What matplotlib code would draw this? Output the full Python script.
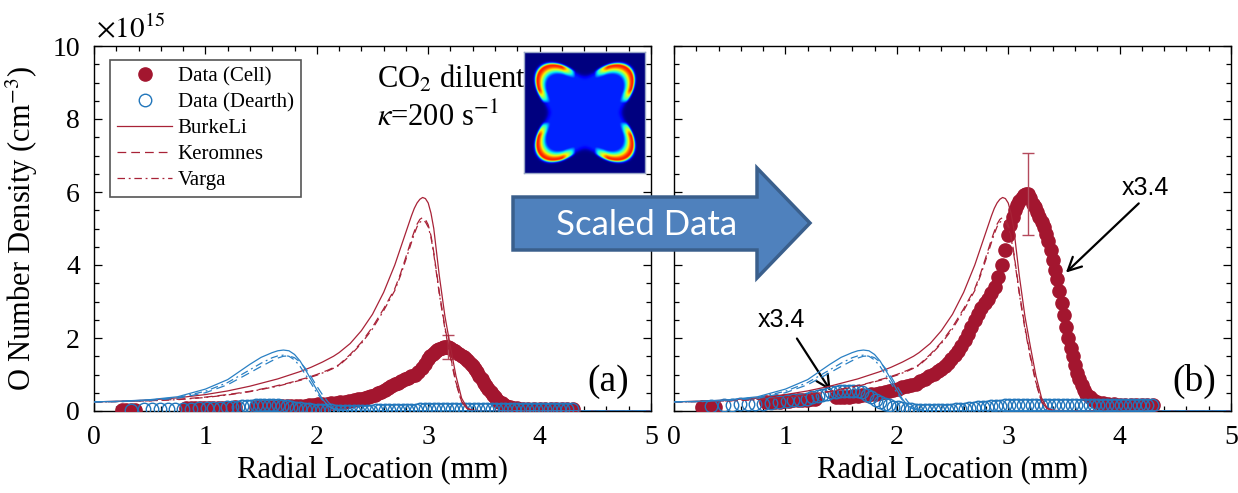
import numpy as np
import matplotlib
matplotlib.use("Agg")
import matplotlib.pyplot as plt
from matplotlib.patches import Polygon
from matplotlib.ticker import MultipleLocator

plt.rcParams['font.family'] = ['Liberation Serif', 'DejaVu Serif']
plt.rcParams['mathtext.fontset'] = 'stix'

# ---------------------------
# data (left panel = measured, right panel = measured x3.4)
# ---------------------------
SCALE = 3.4

cell_x = [0.25, 0.29, 0.33, 0.37,
          0.83, 0.87, 0.91, 0.95, 0.99, 1.03, 1.07, 1.11, 1.15, 1.19, 1.23, 1.27,
          1.45, 1.49, 1.53, 1.57, 1.61, 1.65, 1.69, 1.73, 1.77, 1.81, 1.85, 1.89,
          1.93, 1.97, 2.01, 2.05, 2.09, 2.13, 2.17, 2.21, 2.25, 2.29, 2.33, 2.37,
          2.40, 2.43, 2.46, 2.49, 2.52, 2.55, 2.58, 2.61, 2.64, 2.67, 2.70, 2.73,
          2.76, 2.79, 2.82, 2.85, 2.88, 2.91, 2.94, 2.97, 3.00, 3.02, 3.04, 3.06,
          3.08, 3.10, 3.12, 3.14, 3.16, 3.18, 3.20, 3.22, 3.24, 3.26, 3.28, 3.30,
          3.32, 3.34, 3.36, 3.38, 3.40, 3.42, 3.44, 3.46, 3.48, 3.50, 3.52, 3.54,
          3.56, 3.58, 3.60, 3.62, 3.64, 3.66, 3.68, 3.70, 3.73, 3.76, 3.80, 3.85,
          3.90, 3.95, 4.00, 4.05, 4.10, 4.15, 4.20, 4.25, 4.30]
cell_y = [0.03, 0.03, 0.035, 0.035,
          0.07, 0.07, 0.075, 0.075, 0.08, 0.08, 0.085, 0.085, 0.09, 0.09, 0.095, 0.10,
          0.11, 0.11, 0.115, 0.115, 0.12, 0.12, 0.125, 0.13, 0.135, 0.14, 0.145, 0.15,
          0.16, 0.17, 0.18, 0.19, 0.20, 0.21, 0.22, 0.24, 0.26, 0.28, 0.30, 0.32,
          0.34, 0.36, 0.39, 0.42, 0.45, 0.48, 0.52, 0.57, 0.62, 0.68, 0.73, 0.78,
          0.83, 0.87, 0.90, 0.95, 1.00, 1.08, 1.18, 1.30, 1.42, 1.50, 1.56, 1.62,
          1.66, 1.69, 1.72, 1.74, 1.75, 1.75, 1.72, 1.67, 1.64, 1.60, 1.56, 1.52,
          1.48, 1.43, 1.37, 1.30, 1.22, 1.14, 1.06, 0.97, 0.87, 0.77, 0.68, 0.59,
          0.51, 0.44, 0.37, 0.31, 0.26, 0.21, 0.17, 0.14, 0.11, 0.09, 0.075, 0.065,
          0.06, 0.055, 0.05, 0.05, 0.05, 0.05, 0.05, 0.05, 0.05]

dearth_x = [0.33, 0.45, 0.52, 0.59, 0.66, 0.73, 0.80, 0.87, 0.94, 1.01, 1.07,
            1.13, 1.19, 1.24, 1.29, 1.33, 1.37, 1.41, 1.45, 1.49, 1.53, 1.57,
            1.61, 1.65, 1.69, 1.73, 1.77, 1.81, 1.85, 1.89, 1.93, 1.97, 2.01,
            2.05, 2.09, 2.13, 2.17, 2.21, 2.25, 2.29, 2.33, 2.37, 2.41, 2.45,
            2.49, 2.53, 2.57, 2.61, 2.65, 2.69, 2.73, 2.77, 2.81, 2.85, 2.89,
            2.93, 2.97, 3.01, 3.05, 3.09, 3.13, 3.17, 3.21, 3.25, 3.29, 3.33,
            3.37, 3.41, 3.45, 3.49, 3.53, 3.57, 3.61, 3.65, 3.69, 3.73, 3.77,
            3.81, 3.85, 3.89, 3.93, 3.97, 4.01, 4.05, 4.09, 4.13, 4.17, 4.21,
            4.25, 4.29]
dearth_y = [0.04, 0.05, 0.05, 0.055, 0.055, 0.06, 0.06, 0.065, 0.07, 0.08, 0.085,
            0.09, 0.10, 0.11, 0.12, 0.13, 0.14, 0.15, 0.155, 0.16, 0.165, 0.165,
            0.165, 0.16, 0.15, 0.13, 0.11, 0.09, 0.07, 0.055, 0.045, 0.035, 0.03,
            0.025, 0.02, 0.015, 0.01, 0.008, 0.005, 0.005, 0.005, 0.005, 0.008, 0.01,
            0.012, 0.015, 0.018, 0.02, 0.025, 0.028, 0.03, 0.033, 0.035, 0.038, 0.04,
            0.042, 0.045, 0.045, 0.046, 0.046, 0.047, 0.047, 0.047, 0.048, 0.048, 0.048,
            0.048, 0.048, 0.049, 0.049, 0.049, 0.049, 0.049, 0.05, 0.05, 0.05, 0.05,
            0.05, 0.05, 0.05, 0.05, 0.05, 0.05, 0.05, 0.05, 0.05, 0.05, 0.05,
            0.05, 0.05]

# model predictions on a common grid
model_x = [0.0, 0.25, 0.5, 0.75, 1.0, 1.2, 1.4, 1.5, 1.6, 1.65, 1.7, 1.75, 1.8,
           1.85, 1.9, 1.95, 2.0, 2.05, 2.1, 2.15, 2.2, 2.3, 2.4, 2.5, 2.6, 2.7,
           2.75, 2.8, 2.85, 2.875, 2.9, 2.925, 2.95, 2.975, 3.0, 3.025, 3.05,
           3.1, 3.15, 3.2, 3.25, 3.3, 3.35, 3.4, 3.5, 4.0, 5.0]
cell_burkeli = [0.25, 0.27, 0.30, 0.36, 0.45, 0.55, 0.68, 0.76, 0.84, 0.88,
                0.93, 0.98, 1.03, 1.08, 1.14, 1.20, 1.27, 1.34, 1.42, 1.50,
                1.60, 1.85, 2.20, 2.65, 3.25, 4.00, 4.45, 4.90, 5.35, 5.55,
                5.70, 5.80, 5.85, 5.82, 5.70, 5.42, 5.00, 3.70, 2.60, 1.75,
                0.95, 0.35, 0.08, 0.02, 0.005, 0.0, 0.0]
cell_keromnes = [0.25, 0.26, 0.28, 0.32, 0.38, 0.45, 0.54, 0.60, 0.66, 0.70,
                 0.73, 0.77, 0.81, 0.86, 0.90, 0.95, 1.00, 1.06, 1.12, 1.19,
                 1.27, 1.55, 1.88, 2.30, 2.80, 3.35, 3.75, 4.22, 4.70, 4.92,
                 5.12, 5.25, 5.30, 5.25, 5.10, 4.80, 4.35, 3.25, 2.30, 1.50,
                 0.78, 0.26, 0.06, 0.015, 0.004, 0.0, 0.0]
cell_varga = [0.25, 0.26, 0.28, 0.31, 0.37, 0.44, 0.53, 0.59, 0.65, 0.68,
              0.72, 0.76, 0.80, 0.84, 0.88, 0.93, 0.98, 1.04, 1.10, 1.17,
              1.25, 1.52, 1.85, 2.25, 2.75, 3.30, 3.70, 4.15, 4.62, 4.85,
              5.05, 5.17, 5.22, 5.18, 5.04, 4.76, 4.30, 3.20, 2.25, 1.45,
              0.75, 0.25, 0.06, 0.015, 0.004, 0.0, 0.0]
dearth_burkeli = [0.25, 0.27, 0.31, 0.39, 0.60, 0.86, 1.28, 1.47, 1.60, 1.65,
                  1.67, 1.65, 1.55, 1.37, 1.12, 0.85, 0.58, 0.33, 0.14, 0.05,
                  0.015, 0.003, 0.0, 0.0, 0.0] + [0.0] * 22
dearth_keromnes = [0.25, 0.26, 0.29, 0.35, 0.50, 0.72, 1.05, 1.22, 1.38, 1.45,
                   1.50, 1.51, 1.46, 1.34, 1.16, 0.93, 0.68, 0.45, 0.25, 0.11,
                   0.04, 0.005, 0.0, 0.0, 0.0] + [0.0] * 22
dearth_varga = [0.25, 0.26, 0.30, 0.37, 0.54, 0.78, 1.13, 1.31, 1.46, 1.51,
                1.53, 1.50, 1.40, 1.22, 0.99, 0.75, 0.50, 0.30, 0.15, 0.06,
                0.02, 0.004, 0.0, 0.0, 0.0] + [0.0] * 22

err_x = 3.18
err_y = 1.75
err_size = 0.33

RED = '#a3162f'
RED_LINE = '#a82237'
ERR = '#b44a5c'
BLUE = '#2176bb'
BLUE_LINE = '#2a80c4'

W, H = 1238, 493
fig = plt.figure(figsize=(W / 100, H / 100), dpi=100)
ax_a = fig.add_axes([94 / W, 1 - 411 / H, 557 / W, 365 / H])
ax_b = fig.add_axes([674 / W, 1 - 411 / H, 557 / W, 365 / H])


def draw_panel(ax, k):
    ax.plot(cell_x, np.array(cell_y) * k, 'o', color=RED, mec=RED, ms=9.5,
            label='Data (Cell)', zorder=3)
    ax.plot(dearth_x, np.array(dearth_y) * k, 'o', mfc='none', mec=BLUE, ms=9,
            mew=1.0, label='Data (Dearth)', zorder=4)
    ax.errorbar([err_x], [err_y * k], yerr=[err_size * k], fmt='none',
                ecolor=ERR, elinewidth=1.0, capsize=4, capthick=1.0, zorder=5)
    ax.plot(model_x, cell_burkeli, '-', color=RED_LINE, lw=0.9, label='BurkeLi', zorder=6)
    ax.plot(model_x, cell_keromnes, '--', color=RED_LINE, lw=0.9, dashes=(7, 4),
            label='Keromnes', zorder=6)
    ax.plot(model_x, cell_varga, '-.', color=RED_LINE, lw=0.9, dashes=(6, 3, 1.5, 3),
            label='Varga', zorder=6)
    ax.plot(model_x, dearth_burkeli, '-', color=BLUE_LINE, lw=0.9, zorder=6)
    ax.plot(model_x, dearth_keromnes, '--', color=BLUE_LINE, lw=0.9, dashes=(7, 4), zorder=6)
    ax.plot(model_x, dearth_varga, '-.', color=BLUE_LINE, lw=0.9, dashes=(6, 3, 1.5, 3), zorder=6)

    ax.set_xlim(0, 5)
    ax.set_ylim(0, 10)
    ax.xaxis.set_major_locator(MultipleLocator(1))
    ax.xaxis.set_minor_locator(MultipleLocator(0.2))
    ax.yaxis.set_major_locator(MultipleLocator(2))
    ax.yaxis.set_minor_locator(MultipleLocator(0.5))
    ax.tick_params(which='both', direction='in', top=True, right=True, width=0.9)
    ax.tick_params(which='major', length=6, labelsize=20, pad=10)
    ax.tick_params(which='minor', length=3.5)
    for sp in ax.spines.values():
        sp.set_linewidth(1.0)
    ax.set_xlabel('Radial Location (mm)', fontsize=22, labelpad=4)


draw_panel(ax_a, 1.0)
draw_panel(ax_b, SCALE)
ax_b.set_yticklabels([])

ax_a.set_ylabel('O Number Density (cm$^{-3}$)', fontsize=22, labelpad=9)

leg = ax_a.legend(loc='upper left', bbox_to_anchor=(0.029, 0.962), borderaxespad=0,
                  fontsize=15, numpoints=1, handlelength=2.6, handletextpad=0.3,
                  labelspacing=0.3, borderpad=0.35, fancybox=False, framealpha=1,
                  edgecolor='#555555')
leg.get_frame().set_linewidth(1.2)

fig.text(377 / W, 1 - 88 / H, 'CO$_2$ diluent', fontsize=22, va='baseline')
fig.text(377 / W, 1 - 126 / H, r'$\kappa$=200 s$^{-1}$', fontsize=22, va='baseline')
fig.text(96 / W, 1 - 37 / H, r'$\times10^{15}$', fontsize=21, va='baseline')

ax_a.text(4.62, 0.8, '(a)', fontsize=27, ha='center', va='center')
ax_b.text(4.67, 0.8, '(b)', fontsize=27, ha='center', va='center')

# x3.4 annotations
arrow_kw = dict(arrowstyle='->', color='black', lw=1.6, mutation_scale=24)
ax_b.annotate('', xy=(3.5, 3.74), xytext=(4.19, 5.74), arrowprops=arrow_kw)
ax_b.text(4.23, 6.12, 'x3.4', fontsize=18, family='Liberation Sans', ha='center', va='center')
ax_b.annotate('', xy=(1.42, 0.49), xytext=(1.09, 2.05), arrowprops=arrow_kw)
ax_b.text(0.96, 2.5, 'x3.4', fontsize=18, family='Liberation Sans', ha='center', va='center')

# inset: simulated O field (jet colormap)
ax_in = fig.add_axes([524 / W, 1 - 173 / H, 121 / W, 121 / H], zorder=5)
u = np.linspace(-1, 1, 240)
U, V = np.meshgrid(u, u)
r = (np.abs(U) ** 3 + np.abs(V) ** 3) ** (1 / 3)
th = np.arctan2(V, U)
s = np.abs(np.sin(2 * th))
R = 0.6 + 0.3 * s ** 2
inner = 0.16 / (1 + np.exp((r - R) / 0.02))
d = r - R
ring = np.where(d < 0, np.exp(-(d / 0.13) ** 2), np.exp(-(d / 0.04) ** 2))
ang = np.clip((s - 0.4) / 0.4, 0, 1)
field = np.maximum(inner, 0.88 * ring * ang)
ax_in.imshow(field, cmap='jet', vmin=0, vmax=1, aspect='auto', interpolation='bilinear')
ax_in.set_xticks([])
ax_in.set_yticks([])
for sp in ax_in.spines.values():
    sp.set_edgecolor('#9aa8c8')
    sp.set_linewidth(1.0)

# big "Scaled Data" arrow
arrow_px = [(513, 197), (757, 197), (757, 168), (810, 223), (757, 278), (757, 250), (513, 250)]
poly = Polygon([(x / W, 1 - y / H) for x, y in arrow_px], closed=True,
               transform=fig.transFigure, facecolor='#4f81bd', edgecolor='#3a5f8c',
               linewidth=2.5, zorder=10)
fig.add_artist(poly)
fig.text(647 / W, 1 - 225 / H, 'Scaled Data', fontsize=25, family='Lato', color='white',
         ha='center', va='center', zorder=11)

fig.savefig('out.png', dpi=100)
